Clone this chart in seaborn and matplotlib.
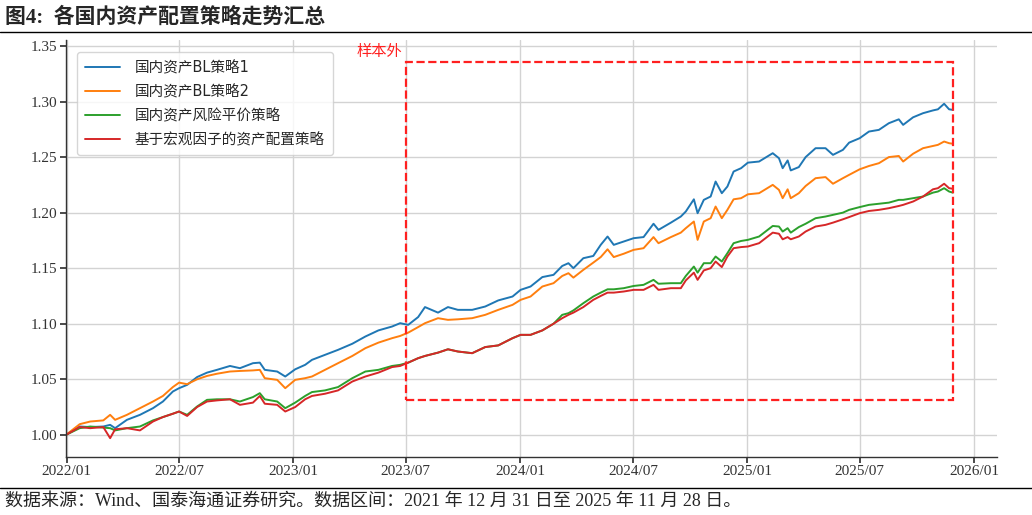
import numpy as np
import pandas as pd
import matplotlib
matplotlib.use('Agg')
import matplotlib.pyplot as plt
import matplotlib.dates as mdates
from matplotlib.patches import Rectangle
import seaborn as sns

# Data (net value, start = 1.0)
dates = [
    '2021-12-31', '2022-01-22', '2022-02-08', '2022-03-01', '2022-03-12', '2022-03-20',
    '2022-04-08', '2022-04-29', '2022-05-20', '2022-06-05', '2022-06-21', '2022-07-01',
    '2022-07-14', '2022-07-30', '2022-08-15', '2022-08-31', '2022-09-21', '2022-10-07',
    '2022-10-28', '2022-11-08', '2022-11-16', '2022-12-06', '2022-12-19', '2023-01-04',
    '2023-01-20', '2023-01-31', '2023-02-21', '2023-03-14', '2023-04-06', '2023-04-27',
    '2023-05-18', '2023-06-09', '2023-06-22', '2023-07-05', '2023-07-21', '2023-08-01',
    '2023-08-22', '2023-09-07', '2023-09-23', '2023-10-16', '2023-11-06', '2023-11-27',
    '2023-12-20', '2024-01-02', '2024-01-18', '2024-02-06', '2024-02-24', '2024-03-09',
    '2024-03-19', '2024-03-27', '2024-04-12', '2024-04-28', '2024-05-10', '2024-05-21',
    '2024-05-31', '2024-06-16', '2024-07-02', '2024-07-18', '2024-08-03', '2024-08-11',
    '2024-08-31', '2024-09-16', '2024-09-24', '2024-10-07', '2024-10-13', '2024-10-23',
    '2024-11-03', '2024-11-11', '2024-11-21', '2024-11-30', '2024-12-10', '2024-12-22',
    '2025-01-02', '2025-01-20', '2025-02-11', '2025-02-21', '2025-02-27', '2025-03-07',
    '2025-03-12', '2025-03-25', '2025-04-05', '2025-04-21', '2025-05-07', '2025-05-19',
    '2025-06-04', '2025-06-14', '2025-07-01', '2025-07-16', '2025-08-01', '2025-08-17',
    '2025-09-02', '2025-09-09', '2025-09-25', '2025-10-11', '2025-10-27', '2025-11-04',
    '2025-11-14', '2025-11-22', '2025-11-28',
]

bl1 = [
    1.000, 1.0075, 1.007, 1.0075, 1.009, 1.006,
    1.0135, 1.018, 1.024, 1.030, 1.039, 1.042,
    1.045, 1.052, 1.056, 1.0585, 1.062, 1.060,
    1.0645, 1.065, 1.0585, 1.057, 1.0525, 1.059,
    1.063, 1.0675, 1.072, 1.0765, 1.082, 1.0885,
    1.094, 1.0975, 1.1005, 1.099, 1.106, 1.115,
    1.110, 1.115, 1.1125, 1.1125, 1.1155, 1.121,
    1.1245, 1.1305, 1.1335, 1.142, 1.144, 1.152,
    1.1545, 1.150, 1.159, 1.161, 1.171, 1.1785,
    1.171, 1.174, 1.177, 1.178, 1.190, 1.1845,
    1.191, 1.1965, 1.201, 1.212, 1.1995, 1.2115,
    1.2145, 1.228, 1.2175, 1.2235, 1.237, 1.240,
    1.245, 1.246, 1.2535, 1.249, 1.240, 1.247,
    1.238, 1.241, 1.250, 1.258, 1.258, 1.252,
    1.2565, 1.263, 1.267, 1.273, 1.2745, 1.2805,
    1.284, 1.279, 1.2858, 1.2895, 1.292, 1.293,
    1.298, 1.293, 1.2925,
]

bl2 = [
    1.000, 1.0096, 1.012, 1.013, 1.018, 1.0135,
    1.018, 1.024, 1.030, 1.035, 1.043, 1.047,
    1.0456, 1.050, 1.053, 1.055, 1.057, 1.0575,
    1.058, 1.0585, 1.051, 1.0495, 1.042, 1.0495,
    1.051, 1.0525, 1.0585, 1.0645, 1.071, 1.078,
    1.083, 1.087, 1.089, 1.092, 1.097, 1.1005,
    1.105, 1.1035, 1.104, 1.105, 1.108, 1.1125,
    1.117, 1.1215, 1.1245, 1.1335, 1.1365, 1.143,
    1.1455, 1.1415, 1.1485, 1.155, 1.160, 1.167,
    1.160, 1.163, 1.1665, 1.168, 1.178, 1.1725,
    1.178, 1.182, 1.186, 1.192, 1.1755, 1.192,
    1.195, 1.2055, 1.195, 1.2025, 1.212, 1.213,
    1.2165, 1.2175, 1.225, 1.2205, 1.213, 1.221,
    1.213, 1.2175, 1.224, 1.231, 1.232, 1.226,
    1.231, 1.234, 1.239, 1.242, 1.2445, 1.250,
    1.251, 1.246, 1.253, 1.258, 1.260, 1.261,
    1.264, 1.2625, 1.262,
]

risk_parity = [
    1.000, 1.006, 1.0075, 1.0065, 1.006, 1.004,
    1.006, 1.0075, 1.013, 1.016, 1.019, 1.021,
    1.018, 1.0255, 1.0315, 1.032, 1.032, 1.030,
    1.034, 1.0375, 1.032, 1.030, 1.024, 1.029,
    1.035, 1.0385, 1.040, 1.043, 1.051, 1.057,
    1.0585, 1.062, 1.063, 1.065, 1.069, 1.071,
    1.074, 1.077, 1.075, 1.0735, 1.079, 1.0805,
    1.087, 1.090, 1.090, 1.094, 1.100, 1.108,
    1.1095, 1.112, 1.1185, 1.1245, 1.128, 1.131,
    1.131, 1.132, 1.134, 1.135, 1.1395, 1.136,
    1.1365, 1.1365, 1.143, 1.1515, 1.146, 1.1545,
    1.1545, 1.1605, 1.156, 1.1635, 1.1725, 1.1745,
    1.1755, 1.1785, 1.188, 1.1875, 1.183, 1.186,
    1.182, 1.187, 1.190, 1.195, 1.1965, 1.198,
    1.200, 1.2025, 1.205, 1.207, 1.208, 1.209,
    1.2115, 1.2115, 1.213, 1.2145, 1.218, 1.219,
    1.222, 1.219, 1.218,
]

macro_factor = [
    1.000, 1.007, 1.006, 1.007, 0.997, 1.005,
    1.006, 1.004, 1.012, 1.016, 1.019, 1.021,
    1.017, 1.025, 1.030, 1.031, 1.032, 1.027,
    1.029, 1.035, 1.028, 1.027, 1.021, 1.025,
    1.032, 1.035, 1.037, 1.040, 1.048, 1.0525,
    1.056, 1.061, 1.062, 1.065, 1.069, 1.071,
    1.074, 1.077, 1.075, 1.0735, 1.079, 1.0805,
    1.087, 1.090, 1.090, 1.094, 1.100, 1.105,
    1.108, 1.110, 1.115, 1.1215, 1.125, 1.128,
    1.128, 1.129, 1.1305, 1.1305, 1.135, 1.1305,
    1.132, 1.132, 1.139, 1.146, 1.1395, 1.148,
    1.150, 1.156, 1.151, 1.1605, 1.168, 1.169,
    1.1695, 1.1725, 1.182, 1.181, 1.176, 1.178,
    1.176, 1.1785, 1.183, 1.1875, 1.189, 1.191,
    1.194, 1.196, 1.1995, 1.2015, 1.2025, 1.204,
    1.206, 1.207, 1.210, 1.2145, 1.221, 1.222,
    1.226, 1.222, 1.2215,
]

labels = ['国内资产BL策略1', '国内资产BL策略2', '国内资产风险平价策略', '基于宏观因子的资产配置策略']
colors = ['#1f77b4', '#ff7f0e', '#2ca02c', '#d62728']

# out-of-sample box
oos_start = '2023-07-01'
oos_end = '2025-11-28'
oos_low, oos_high = 1.031, 1.336

sns.set_theme(style='whitegrid', rc={
    'grid.color': '#d3d3d3',
    'grid.linewidth': 1.0,
    'axes.edgecolor': '#333333',
    'axes.linewidth': 1.0,
    'xtick.bottom': True,
    'ytick.left': True,
    'xtick.major.size': 4,
    'ytick.major.size': 4,
    'xtick.color': '#333333',
    'ytick.color': '#333333',
})
plt.rcParams['font.family'] = ['Liberation Serif', 'Noto Sans CJK SC', 'DejaVu Sans']
plt.rcParams['axes.unicode_minus'] = False

df = pd.DataFrame({
    'date': pd.to_datetime(dates),
    labels[0]: bl1,
    labels[1]: bl2,
    labels[2]: risk_parity,
    labels[3]: macro_factor,
})
long_df = df.melt(id_vars='date', var_name='strategy', value_name='nav')

fig = plt.figure(figsize=(10.32, 5.15), dpi=100)
ax = fig.add_axes([0.064, 0.1125, 0.902, 0.809])

sns.lineplot(data=long_df, x='date', y='nav', hue='strategy', hue_order=labels,
             palette=colors, linewidth=1.4, ax=ax)

ax.set_xlim(pd.Timestamp('2021-12-31'), pd.Timestamp('2026-02-07'))
ax.set_ylim(0.98, 1.355)
ax.set_yticks(np.arange(1.00, 1.351, 0.05))
ax.yaxis.set_major_formatter(matplotlib.ticker.FormatStrFormatter('%.2f'))
ax.xaxis.set_major_locator(mdates.MonthLocator(bymonth=[1, 7]))
ax.xaxis.set_major_formatter(mdates.DateFormatter('%Y/%m'))
ax.tick_params(axis='both', labelsize=11, pad=2)
ax.set_xlabel('')
ax.set_ylabel('')
for s in ['top', 'right']:
    ax.spines[s].set_visible(False)

x0 = mdates.date2num(pd.Timestamp(oos_start))
x1 = mdates.date2num(pd.Timestamp(oos_end))
ax.add_patch(Rectangle((x0, oos_low), x1 - x0, oos_high - oos_low, fill=False,
                       edgecolor='#ff2020', linestyle='--', linewidth=1.6, zorder=5))
ax.text(x0 - 6, oos_high + 0.001, '样本外', color='#ff2020', fontsize=11,
        ha='right', va='bottom', family=['Noto Sans CJK SC', 'DejaVu Sans'])

leg = ax.legend(loc='upper left', bbox_to_anchor=(0.004, 0.99), frameon=True,
                prop={'family': ['DejaVu Sans', 'Noto Sans CJK SC'], 'size': 10.5},
                handlelength=2.4, labelspacing=0.62, borderpad=0.55, handletextpad=1.0)
leg.set_title(None)
leg.get_frame().set_edgecolor('#cccccc')

# title and footer
fig.text(0.005, 0.966, '图4:  各国内资产配置策略走势汇总', fontsize=15, fontweight='bold',
         ha='left', va='center', family=['Liberation Serif', 'Noto Sans CJK SC'])
fig.add_artist(plt.Line2D([0, 1], [0.938, 0.938], color='black', linewidth=1.0))
fig.add_artist(plt.Line2D([0, 1], [0.052, 0.052], color='black', linewidth=1.0))
fig.text(0.005, 0.027, '数据来源：Wind、国泰海通证券研究。数据区间：2021 年 12 月 31 日至 2025 年 11 月 28 日。',
         fontsize=13, ha='left', va='center', family=['Liberation Serif', 'Noto Sans CJK SC'])

fig.savefig('out.png', dpi=100)
